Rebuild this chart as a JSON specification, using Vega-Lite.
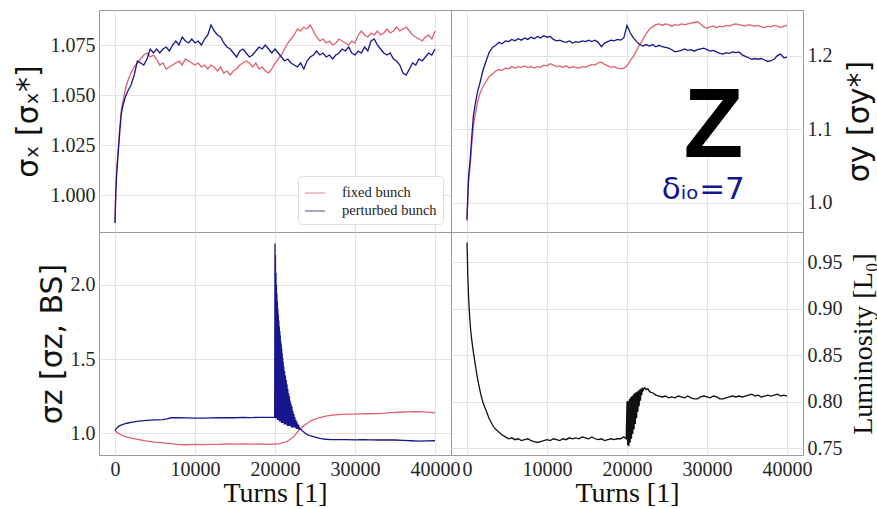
{
"$schema": "https://vega.github.io/schema/vega-lite/v6.json",
"padding": {"left": 12, "top": 9, "right": 0, "bottom": 0},
"spacing": 0,
"columns": 2,
"bounds": "flush",
"resolve": {"scale": {"color": "independent"}, "legend": {"color": "independent"}},
"config": {
 "view": {"stroke": "#999999", "strokeWidth": 1},
 "axis": {"grid": true, "gridColor": "#e3e3e3", "gridWidth": 1, "domain": false, "ticks": false, "labelFont": "Liberation Serif", "labelFontSize": 20, "labelColor": "#262626", "labelPadding": 4, "labelFlush": false, "titleFont": "DejaVu Sans", "titleFontWeight": "normal", "titleFontSize": 30, "titleColor": "#111111", "titlePadding": 7},
 "line": {"strokeWidth": 1.3}
},
"datasets": {
 "sx": [
{"t":0,"f":0.986,"p":0.986},{"t":100,"f":1.000,"p":1.002},{"t":200,"f":1.012,"p":1.010},{"t":400,"f":1.023,"p":1.021},{"t":600,"f":1.034,"p":1.032},{"t":800,"f":1.043,"p":1.041},{"t":1000,"f":1.047,"p":1.045},{"t":1300,"f":1.053,"p":1.049},{"t":1600,"f":1.057,"p":1.052},{"t":2000,"f":1.061,"p":1.055},{"t":2400,"f":1.064,"p":1.060},{"t":2800,"f":1.066,"p":1.067},{"t":3200,"f":1.068,"p":1.066},{"t":3600,"f":1.070,"p":1.065},{"t":4000,"f":1.071,"p":1.068},{"t":4400,"f":1.069,"p":1.073},{"t":4800,"f":1.070,"p":1.071},{"t":5200,"f":1.068,"p":1.073},{"t":5600,"f":1.065,"p":1.071},{"t":6000,"f":1.066,"p":1.073},{"t":6400,"f":1.063,"p":1.074},{"t":6800,"f":1.064,"p":1.072},{"t":7200,"f":1.065,"p":1.075},{"t":7600,"f":1.066,"p":1.077},{"t":8000,"f":1.067,"p":1.075},{"t":8400,"f":1.065,"p":1.079},{"t":8800,"f":1.068,"p":1.077},{"t":9200,"f":1.067,"p":1.076},{"t":9600,"f":1.066,"p":1.078},{"t":10000,"f":1.065,"p":1.076},{"t":10400,"f":1.066,"p":1.077},{"t":10800,"f":1.064,"p":1.075},{"t":11200,"f":1.065,"p":1.078},{"t":11600,"f":1.063,"p":1.080},{"t":12000,"f":1.065,"p":1.085},{"t":12400,"f":1.064,"p":1.082},{"t":12800,"f":1.062,"p":1.080},{"t":13200,"f":1.064,"p":1.079},{"t":13600,"f":1.061,"p":1.076},{"t":14000,"f":1.062,"p":1.074},{"t":14400,"f":1.060,"p":1.073},{"t":14800,"f":1.062,"p":1.071},{"t":15200,"f":1.063,"p":1.069},{"t":15600,"f":1.065,"p":1.072},{"t":16000,"f":1.066,"p":1.073},{"t":16400,"f":1.067,"p":1.071},{"t":16800,"f":1.066,"p":1.069},{"t":17200,"f":1.064,"p":1.070},{"t":17600,"f":1.066,"p":1.072},{"t":18000,"f":1.063,"p":1.074},{"t":18400,"f":1.064,"p":1.073},{"t":18800,"f":1.062,"p":1.075},{"t":19200,"f":1.061,"p":1.073},{"t":19600,"f":1.063,"p":1.071},{"t":20000,"f":1.066,"p":1.073},{"t":20400,"f":1.068,"p":1.071},{"t":20800,"f":1.070,"p":1.069},{"t":21200,"f":1.073,"p":1.067},{"t":21600,"f":1.076,"p":1.068},{"t":22000,"f":1.078,"p":1.066},{"t":22400,"f":1.080,"p":1.065},{"t":22800,"f":1.083,"p":1.064},{"t":23200,"f":1.082,"p":1.066},{"t":23600,"f":1.084,"p":1.063},{"t":24000,"f":1.083,"p":1.067},{"t":24400,"f":1.085,"p":1.069},{"t":24800,"f":1.082,"p":1.070},{"t":25200,"f":1.079,"p":1.072},{"t":25600,"f":1.077,"p":1.070},{"t":26000,"f":1.078,"p":1.071},{"t":26400,"f":1.076,"p":1.069},{"t":26800,"f":1.077,"p":1.070},{"t":27200,"f":1.075,"p":1.068},{"t":27600,"f":1.076,"p":1.070},{"t":28000,"f":1.078,"p":1.071},{"t":28400,"f":1.077,"p":1.073},{"t":28800,"f":1.076,"p":1.072},{"t":29200,"f":1.075,"p":1.074},{"t":29600,"f":1.077,"p":1.071},{"t":30000,"f":1.076,"p":1.070},{"t":30400,"f":1.080,"p":1.072},{"t":30800,"f":1.082,"p":1.071},{"t":31200,"f":1.080,"p":1.074},{"t":31600,"f":1.079,"p":1.072},{"t":32000,"f":1.081,"p":1.077},{"t":32400,"f":1.080,"p":1.078},{"t":32800,"f":1.082,"p":1.075},{"t":33200,"f":1.080,"p":1.073},{"t":33600,"f":1.081,"p":1.071},{"t":34000,"f":1.083,"p":1.070},{"t":34400,"f":1.081,"p":1.071},{"t":34800,"f":1.082,"p":1.068},{"t":35200,"f":1.084,"p":1.067},{"t":35600,"f":1.082,"p":1.065},{"t":36000,"f":1.083,"p":1.061},{"t":36400,"f":1.084,"p":1.060},{"t":36800,"f":1.082,"p":1.063},{"t":37200,"f":1.080,"p":1.066},{"t":37600,"f":1.079,"p":1.065},{"t":38000,"f":1.078,"p":1.068},{"t":38400,"f":1.077,"p":1.067},{"t":38800,"f":1.079,"p":1.069},{"t":39200,"f":1.080,"p":1.071},{"t":39600,"f":1.078,"p":1.070},{"t":40000,"f":1.082,"p":1.073}
 ],
 "sy": [
{"t":0,"f":0.975,"p":0.977},{"t":100,"f":1.005,"p":1.010},{"t":200,"f":1.030,"p":1.036},{"t":400,"f":1.050,"p":1.059},{"t":600,"f":1.080,"p":1.090},{"t":800,"f":1.104,"p":1.118},{"t":1000,"f":1.118,"p":1.132},{"t":1300,"f":1.136,"p":1.150},{"t":1600,"f":1.148,"p":1.162},{"t":2000,"f":1.158,"p":1.180},{"t":2400,"f":1.165,"p":1.193},{"t":2800,"f":1.172,"p":1.205},{"t":3200,"f":1.175,"p":1.211},{"t":3600,"f":1.179,"p":1.214},{"t":4000,"f":1.181,"p":1.218},{"t":4400,"f":1.180,"p":1.216},{"t":4800,"f":1.183,"p":1.220},{"t":5200,"f":1.182,"p":1.219},{"t":5600,"f":1.185,"p":1.222},{"t":6000,"f":1.183,"p":1.220},{"t":6400,"f":1.185,"p":1.223},{"t":6800,"f":1.184,"p":1.221},{"t":7200,"f":1.186,"p":1.224},{"t":7600,"f":1.184,"p":1.222},{"t":8000,"f":1.185,"p":1.225},{"t":8400,"f":1.183,"p":1.223},{"t":8800,"f":1.185,"p":1.226},{"t":9200,"f":1.184,"p":1.224},{"t":9600,"f":1.187,"p":1.227},{"t":10000,"f":1.186,"p":1.225},{"t":10400,"f":1.189,"p":1.226},{"t":10800,"f":1.187,"p":1.222},{"t":11200,"f":1.185,"p":1.220},{"t":11600,"f":1.186,"p":1.221},{"t":12000,"f":1.184,"p":1.219},{"t":12400,"f":1.186,"p":1.218},{"t":12800,"f":1.183,"p":1.220},{"t":13200,"f":1.185,"p":1.217},{"t":13600,"f":1.184,"p":1.219},{"t":14000,"f":1.183,"p":1.218},{"t":14400,"f":1.185,"p":1.220},{"t":14800,"f":1.184,"p":1.219},{"t":15200,"f":1.186,"p":1.221},{"t":15600,"f":1.188,"p":1.219},{"t":16000,"f":1.187,"p":1.221},{"t":16400,"f":1.190,"p":1.218},{"t":16800,"f":1.191,"p":1.212},{"t":17200,"f":1.188,"p":1.217},{"t":17600,"f":1.186,"p":1.219},{"t":18000,"f":1.184,"p":1.221},{"t":18400,"f":1.185,"p":1.220},{"t":18800,"f":1.183,"p":1.222},{"t":19200,"f":1.182,"p":1.221},{"t":19600,"f":1.183,"p":1.224},{"t":20000,"f":1.186,"p":1.241},{"t":20200,"f":1.189,"p":1.236},{"t":20400,"f":1.193,"p":1.231},{"t":20800,"f":1.199,"p":1.224},{"t":21200,"f":1.207,"p":1.219},{"t":21600,"f":1.215,"p":1.215},{"t":22000,"f":1.222,"p":1.213},{"t":22400,"f":1.230,"p":1.215},{"t":22800,"f":1.236,"p":1.213},{"t":23200,"f":1.239,"p":1.215},{"t":23600,"f":1.242,"p":1.212},{"t":24000,"f":1.243,"p":1.214},{"t":24400,"f":1.241,"p":1.212},{"t":24800,"f":1.243,"p":1.211},{"t":25200,"f":1.242,"p":1.210},{"t":25600,"f":1.240,"p":1.208},{"t":26000,"f":1.242,"p":1.205},{"t":26400,"f":1.241,"p":1.206},{"t":26800,"f":1.243,"p":1.207},{"t":27200,"f":1.242,"p":1.209},{"t":27600,"f":1.243,"p":1.207},{"t":28000,"f":1.244,"p":1.208},{"t":28400,"f":1.245,"p":1.206},{"t":28800,"f":1.246,"p":1.208},{"t":29200,"f":1.243,"p":1.209},{"t":29600,"f":1.239,"p":1.210},{"t":30000,"f":1.237,"p":1.208},{"t":30400,"f":1.239,"p":1.206},{"t":30800,"f":1.240,"p":1.207},{"t":31200,"f":1.238,"p":1.205},{"t":31600,"f":1.240,"p":1.203},{"t":32000,"f":1.239,"p":1.202},{"t":32400,"f":1.241,"p":1.204},{"t":32800,"f":1.240,"p":1.203},{"t":33200,"f":1.242,"p":1.205},{"t":33600,"f":1.243,"p":1.204},{"t":34000,"f":1.242,"p":1.205},{"t":34400,"f":1.241,"p":1.201},{"t":34800,"f":1.240,"p":1.199},{"t":35200,"f":1.242,"p":1.197},{"t":35600,"f":1.241,"p":1.195},{"t":36000,"f":1.240,"p":1.196},{"t":36400,"f":1.241,"p":1.195},{"t":36800,"f":1.239,"p":1.196},{"t":37200,"f":1.238,"p":1.194},{"t":37600,"f":1.240,"p":1.192},{"t":38000,"f":1.239,"p":1.193},{"t":38400,"f":1.241,"p":1.195},{"t":38800,"f":1.240,"p":1.200},{"t":39200,"f":1.238,"p":1.202},{"t":39600,"f":1.240,"p":1.197},{"t":40000,"f":1.241,"p":1.198}
 ],
 "sz": [
{"t":0,"s":"f","v":1.018},{"t":300,"s":"f","v":1.005},{"t":600,"s":"f","v":0.995},{"t":1000,"s":"f","v":0.984},{"t":1500,"s":"f","v":0.975},{"t":2000,"s":"f","v":0.968},{"t":2500,"s":"f","v":0.962},{"t":3000,"s":"f","v":0.957},{"t":4000,"s":"f","v":0.948},{"t":5000,"s":"f","v":0.941},{"t":6000,"s":"f","v":0.936},{"t":7000,"s":"f","v":0.930},{"t":8000,"s":"f","v":0.924},{"t":9000,"s":"f","v":0.923},{"t":10000,"s":"f","v":0.925},{"t":11000,"s":"f","v":0.924},{"t":12000,"s":"f","v":0.926},{"t":13000,"s":"f","v":0.925},{"t":14000,"s":"f","v":0.928},{"t":15000,"s":"f","v":0.927},{"t":16000,"s":"f","v":0.929},{"t":17000,"s":"f","v":0.927},{"t":18000,"s":"f","v":0.928},{"t":19000,"s":"f","v":0.926},{"t":20000,"s":"f","v":0.928},{"t":20600,"s":"f","v":0.930},{"t":21500,"s":"f","v":0.945},{"t":22300,"s":"f","v":0.975},{"t":23000,"s":"f","v":1.022},{"t":23800,"s":"f","v":1.060},{"t":24600,"s":"f","v":1.088},{"t":25500,"s":"f","v":1.105},{"t":26500,"s":"f","v":1.118},{"t":27500,"s":"f","v":1.125},{"t":28500,"s":"f","v":1.128},{"t":29500,"s":"f","v":1.130},{"t":30500,"s":"f","v":1.131},{"t":31500,"s":"f","v":1.132},{"t":32500,"s":"f","v":1.133},{"t":33500,"s":"f","v":1.135},{"t":34500,"s":"f","v":1.139},{"t":35500,"s":"f","v":1.142},{"t":36500,"s":"f","v":1.144},{"t":37500,"s":"f","v":1.146},{"t":38500,"s":"f","v":1.144},{"t":39300,"s":"f","v":1.141},{"t":40000,"s":"f","v":1.138},
{"t":0,"s":"p","v":1.018},{"t":300,"s":"p","v":1.040},{"t":600,"s":"p","v":1.052},{"t":1000,"s":"p","v":1.060},{"t":1500,"s":"p","v":1.068},{"t":2000,"s":"p","v":1.074},{"t":3000,"s":"p","v":1.082},{"t":4000,"s":"p","v":1.088},{"t":5000,"s":"p","v":1.091},{"t":6000,"s":"p","v":1.092},{"t":6500,"s":"p","v":1.098},{"t":7000,"s":"p","v":1.105},{"t":8000,"s":"p","v":1.106},{"t":9000,"s":"p","v":1.104},{"t":10000,"s":"p","v":1.102},{"t":11000,"s":"p","v":1.103},{"t":12000,"s":"p","v":1.104},{"t":13000,"s":"p","v":1.105},{"t":14000,"s":"p","v":1.106},{"t":15000,"s":"p","v":1.105},{"t":16000,"s":"p","v":1.107},{"t":17000,"s":"p","v":1.106},{"t":18000,"s":"p","v":1.108},{"t":19000,"s":"p","v":1.107},{"t":19960,"s":"p","v":1.108},
{"t":20000,"s":"p","v":2.28},{"t":20030,"s":"p","v":1.11},{"t":20060,"s":"p","v":2.20},{"t":20090,"s":"p","v":1.10},{"t":20120,"s":"p","v":2.08},{"t":20150,"s":"p","v":1.10},{"t":20180,"s":"p","v":2.00},{"t":20210,"s":"p","v":1.10},{"t":20240,"s":"p","v":1.94},{"t":20270,"s":"p","v":1.10},{"t":20300,"s":"p","v":1.89},{"t":20330,"s":"p","v":1.09},{"t":20360,"s":"p","v":1.84},{"t":20390,"s":"p","v":1.09},{"t":20420,"s":"p","v":1.80},{"t":20450,"s":"p","v":1.09},{"t":20480,"s":"p","v":1.76},{"t":20510,"s":"p","v":1.09},{"t":20540,"s":"p","v":1.72},{"t":20570,"s":"p","v":1.08},{"t":20600,"s":"p","v":1.69},{"t":20630,"s":"p","v":1.08},{"t":20660,"s":"p","v":1.66},{"t":20690,"s":"p","v":1.08},{"t":20720,"s":"p","v":1.62},{"t":20750,"s":"p","v":1.08},{"t":20780,"s":"p","v":1.60},{"t":20810,"s":"p","v":1.07},{"t":20840,"s":"p","v":1.57},{"t":20870,"s":"p","v":1.07},{"t":20900,"s":"p","v":1.54},{"t":20930,"s":"p","v":1.07},{"t":20960,"s":"p","v":1.51},{"t":20990,"s":"p","v":1.07},{"t":21020,"s":"p","v":1.48},{"t":21050,"s":"p","v":1.07},{"t":21100,"s":"p","v":1.45},{"t":21150,"s":"p","v":1.06},{"t":21200,"s":"p","v":1.42},{"t":21250,"s":"p","v":1.06},{"t":21300,"s":"p","v":1.39},{"t":21350,"s":"p","v":1.06},{"t":21400,"s":"p","v":1.36},{"t":21450,"s":"p","v":1.06},{"t":21500,"s":"p","v":1.33},{"t":21550,"s":"p","v":1.05},{"t":21600,"s":"p","v":1.30},{"t":21650,"s":"p","v":1.05},{"t":21700,"s":"p","v":1.27},{"t":21750,"s":"p","v":1.05},{"t":21800,"s":"p","v":1.25},{"t":21850,"s":"p","v":1.05},{"t":21900,"s":"p","v":1.22},{"t":21950,"s":"p","v":1.05},{"t":22000,"s":"p","v":1.20},{"t":22060,"s":"p","v":1.04},{"t":22120,"s":"p","v":1.18},{"t":22180,"s":"p","v":1.04},{"t":22240,"s":"p","v":1.15},{"t":22300,"s":"p","v":1.04},{"t":22360,"s":"p","v":1.13},{"t":22420,"s":"p","v":1.04},{"t":22480,"s":"p","v":1.11},{"t":22540,"s":"p","v":1.04},{"t":22600,"s":"p","v":1.09},{"t":22660,"s":"p","v":1.03},{"t":22720,"s":"p","v":1.08},{"t":22780,"s":"p","v":1.03},{"t":22840,"s":"p","v":1.065},{"t":22900,"s":"p","v":1.03},{"t":22960,"s":"p","v":1.055},{"t":23020,"s":"p","v":1.03},{"t":23100,"s":"p","v":1.035},
{"t":23400,"s":"p","v":1.018},{"t":23750,"s":"p","v":1.002},{"t":24100,"s":"p","v":0.990},{"t":24400,"s":"p","v":0.984},{"t":25000,"s":"p","v":0.974},{"t":25600,"s":"p","v":0.966},{"t":26300,"s":"p","v":0.960},{"t":27000,"s":"p","v":0.958},{"t":28000,"s":"p","v":0.957},{"t":29000,"s":"p","v":0.958},{"t":30000,"s":"p","v":0.956},{"t":31000,"s":"p","v":0.957},{"t":32000,"s":"p","v":0.956},{"t":33000,"s":"p","v":0.955},{"t":34000,"s":"p","v":0.956},{"t":35000,"s":"p","v":0.955},{"t":36000,"s":"p","v":0.953},{"t":37000,"s":"p","v":0.950},{"t":38000,"s":"p","v":0.947},{"t":39000,"s":"p","v":0.949},{"t":40000,"s":"p","v":0.950}
 ],
 "lum": [
{"t":0,"v":0.9715},{"t":50,"v":0.955},{"t":100,"v":0.935},{"t":200,"v":0.912},{"t":300,"v":0.896},{"t":450,"v":0.878},{"t":600,"v":0.866},{"t":800,"v":0.853},{"t":1000,"v":0.842},{"t":1250,"v":0.828},{"t":1500,"v":0.817},{"t":1750,"v":0.807},{"t":2000,"v":0.799},{"t":2250,"v":0.793},{"t":2500,"v":0.788},{"t":2750,"v":0.782},{"t":3000,"v":0.778},{"t":3250,"v":0.774},{"t":3500,"v":0.771},{"t":3750,"v":0.769},{"t":4000,"v":0.767},{"t":4400,"v":0.764},{"t":4800,"v":0.762},{"t":5200,"v":0.760},{"t":5600,"v":0.761},{"t":6000,"v":0.759},{"t":6400,"v":0.760},{"t":6800,"v":0.758},{"t":7200,"v":0.759},{"t":7600,"v":0.760},{"t":8000,"v":0.758},{"t":8400,"v":0.757},{"t":8800,"v":0.756},{"t":9200,"v":0.757},{"t":9600,"v":0.758},{"t":10000,"v":0.759},{"t":10400,"v":0.758},{"t":10800,"v":0.760},{"t":11200,"v":0.759},{"t":11600,"v":0.758},{"t":12000,"v":0.760},{"t":12400,"v":0.759},{"t":12800,"v":0.761},{"t":13200,"v":0.760},{"t":13600,"v":0.761},{"t":14000,"v":0.760},{"t":14400,"v":0.762},{"t":14800,"v":0.761},{"t":15200,"v":0.760},{"t":15600,"v":0.762},{"t":16000,"v":0.760},{"t":16400,"v":0.759},{"t":16800,"v":0.760},{"t":17200,"v":0.758},{"t":17600,"v":0.759},{"t":18000,"v":0.760},{"t":18400,"v":0.759},{"t":18800,"v":0.760},{"t":19200,"v":0.760},{"t":19600,"v":0.762},{"t":19900,"v":0.760},
{"t":20000,"v":0.800},{"t":20080,"v":0.753},{"t":20160,"v":0.801},{"t":20240,"v":0.752},{"t":20320,"v":0.803},{"t":20400,"v":0.756},{"t":20480,"v":0.805},{"t":20560,"v":0.760},{"t":20640,"v":0.806},{"t":20720,"v":0.765},{"t":20800,"v":0.808},{"t":20880,"v":0.770},{"t":20960,"v":0.809},{"t":21040,"v":0.776},{"t":21120,"v":0.810},{"t":21200,"v":0.782},{"t":21280,"v":0.811},{"t":21360,"v":0.789},{"t":21440,"v":0.812},{"t":21520,"v":0.795},{"t":21600,"v":0.813},{"t":21680,"v":0.801},{"t":21760,"v":0.814},{"t":21840,"v":0.807},{"t":21920,"v":0.815},{"t":22000,"v":0.812},{"t":22200,"v":0.815},{"t":22400,"v":0.813},{"t":22600,"v":0.814},{"t":22800,"v":0.811},{"t":23000,"v":0.810},{"t":23300,"v":0.809},{"t":23600,"v":0.807},{"t":24000,"v":0.806},{"t":24400,"v":0.805},{"t":24800,"v":0.806},{"t":25200,"v":0.804},{"t":25600,"v":0.805},{"t":26000,"v":0.804},{"t":26400,"v":0.806},{"t":26800,"v":0.805},{"t":27200,"v":0.804},{"t":27600,"v":0.806},{"t":28000,"v":0.804},{"t":28400,"v":0.803},{"t":28800,"v":0.803},{"t":29200,"v":0.805},{"t":29600,"v":0.806},{"t":30000,"v":0.805},{"t":30400,"v":0.804},{"t":30800,"v":0.806},{"t":31200,"v":0.805},{"t":31600,"v":0.803},{"t":32000,"v":0.803},{"t":32400,"v":0.804},{"t":32800,"v":0.805},{"t":33200,"v":0.806},{"t":33600,"v":0.805},{"t":34000,"v":0.806},{"t":34400,"v":0.805},{"t":34800,"v":0.806},{"t":35200,"v":0.807},{"t":35600,"v":0.808},{"t":36000,"v":0.806},{"t":36400,"v":0.807},{"t":36800,"v":0.805},{"t":37200,"v":0.806},{"t":37600,"v":0.807},{"t":38000,"v":0.806},{"t":38400,"v":0.807},{"t":38800,"v":0.808},{"t":39200,"v":0.806},{"t":39600,"v":0.807},{"t":40000,"v":0.806}
 ]
},
"concat": [
 {
  "width": 352, "height": 222,
  "data": {"name": "sx"},
  "transform": [{"fold": ["f", "p"], "as": ["s", "v"]}],
  "mark": {"type": "line", "strokeWidth": 1.3},
  "encoding": {
   "x": {"field": "t", "type": "quantitative", "scale": {"domain": [-2000, 42000], "nice": false, "zero": false}, "axis": {"values": [0, 10000, 20000, 30000, 40000], "labels": false, "title": null}},
   "y": {"field": "v", "type": "quantitative", "scale": {"domain": [0.9815, 1.0925], "nice": false, "zero": false}, "axis": {"values": [1.0, 1.025, 1.05, 1.075], "format": ".3f", "title": "σₓ [σₓ*]"}},
   "color": {"field": "s", "type": "nominal", "scale": {"domain": ["f", "p"], "range": ["#e15f6e", "#16168e"]}, "legend": {"title": null, "orient": "bottom-right", "offset": 8, "fillColor": "white", "strokeColor": "#dddddd", "cornerRadius": 4, "padding": 6, "labelFont": "Liberation Serif", "labelFontSize": 14.5, "labelColor": "#222222", "symbolType": "stroke", "symbolSize": 400, "symbolStrokeWidth": 1.5, "symbolOpacity": 0.6, "rowPadding": 0, "labelOffset": 16, "labelExpr": "datum.label == 'f' ? 'fixed bunch' : 'perturbed bunch'"}}
  }
 },
 {
  "width": 352, "height": 222,
  "layer": [
   {
    "data": {"name": "sy"},
    "transform": [{"fold": ["f", "p"], "as": ["s", "v"]}],
    "mark": {"type": "line", "strokeWidth": 1.3},
    "encoding": {
     "x": {"field": "t", "type": "quantitative", "scale": {"domain": [-2000, 42000], "nice": false, "zero": false}, "axis": {"values": [0, 10000, 20000, 30000, 40000], "labels": false, "title": null}},
     "y": {"field": "v", "type": "quantitative", "scale": {"domain": [0.96, 1.262], "nice": false, "zero": false}, "axis": {"orient": "right", "values": [1.0, 1.1, 1.2], "format": ".1f", "title": "σy [σy*]", "titleAngle": 270, "titleBaseline": "top", "titlePadding": 12}},
     "color": {"field": "s", "type": "nominal", "scale": {"domain": ["f", "p"], "range": ["#e15f6e", "#16168e"]}, "legend": null}
    }
   },
   {
    "data": {"values": [{"t": 30790, "v": 1.062, "label": "Z"}]},
    "mark": {"type": "text", "font": "Liberation Sans", "fontWeight": "bold", "fontSize": 98, "color": "black", "align": "center", "baseline": "alphabetic"},
    "encoding": {"x": {"field": "t", "type": "quantitative"}, "y": {"field": "v", "type": "quantitative"}, "text": {"field": "label"}}
   },
   {
    "data": {"values": [{"t": 29540, "v": 1.0045, "label": "δᵢₒ=7"}]},
    "mark": {"type": "text", "font": "DejaVu Sans", "fontSize": 31, "color": "#16168e", "align": "center", "baseline": "alphabetic"},
    "encoding": {"x": {"field": "t", "type": "quantitative"}, "y": {"field": "v", "type": "quantitative"}, "text": {"field": "label"}}
   }
  ]
 },
 {
  "width": 352, "height": 223,
  "data": {"name": "sz"},
  "mark": {"type": "line", "strokeWidth": 1.3},
  "encoding": {
   "x": {"field": "t", "type": "quantitative", "scale": {"domain": [-2000, 42000], "nice": false, "zero": false}, "axis": {"values": [0, 10000, 20000, 30000, 40000], "format": "d", "title": "Turns [1]", "titleFont": "Liberation Serif", "titleFontSize": 28, "labelPadding": 4, "titlePadding": 0}},
   "y": {"field": "v", "type": "quantitative", "scale": {"domain": [0.854, 2.357], "nice": false, "zero": false}, "axis": {"values": [1.0, 1.5, 2.0], "format": ".1f", "title": "σz [σz, BS]", "titleX": -62, "titleBaseline": "top"}},
   "color": {"field": "s", "type": "nominal", "scale": {"domain": ["f", "p"], "range": ["#e15f6e", "#16168e"]}, "legend": null}
  }
 },
 {
  "width": 352, "height": 223,
  "data": {"name": "lum"},
  "mark": {"type": "line", "strokeWidth": 1.3, "color": "#111111"},
  "encoding": {
   "x": {"field": "t", "type": "quantitative", "scale": {"domain": [-2000, 42000], "nice": false, "zero": false}, "axis": {"values": [0, 10000, 20000, 30000, 40000], "format": "d", "title": "Turns [1]", "titleFont": "Liberation Serif", "titleFontSize": 28, "labelPadding": 4, "titlePadding": 0}},
   "y": {"field": "v", "type": "quantitative", "scale": {"domain": [0.7425, 0.9827], "nice": false, "zero": false}, "axis": {"orient": "right", "values": [0.75, 0.8, 0.85, 0.9, 0.95], "format": ".2f", "title": "Luminosity [L₀]", "titleFont": "Liberation Serif", "titleFontSize": 28, "titleAngle": 270, "titleBaseline": "top", "titlePadding": 7}}
  }
 }
]
}
